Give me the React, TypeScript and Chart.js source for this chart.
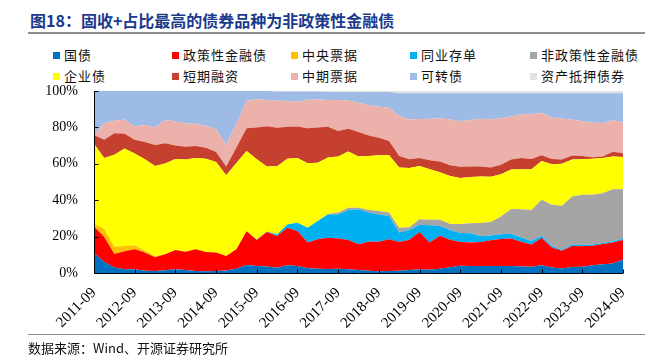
import React, { useEffect, useRef } from 'react';
import { Chart, registerables } from 'chart.js';

Chart.register(...registerables);

const quarters: string[] = [
  '2011-09', '2011-12',
  '2012-03', '2012-06', '2012-09', '2012-12',
  '2013-03', '2013-06', '2013-09', '2013-12',
  '2014-03', '2014-06', '2014-09', '2014-12',
  '2015-03', '2015-06', '2015-09', '2015-12',
  '2016-03', '2016-06', '2016-09', '2016-12',
  '2017-03', '2017-06', '2017-09', '2017-12',
  '2018-03', '2018-06', '2018-09', '2018-12',
  '2019-03', '2019-06', '2019-09', '2019-12',
  '2020-03', '2020-06', '2020-09', '2020-12',
  '2021-03', '2021-06', '2021-09', '2021-12',
  '2022-03', '2022-06', '2022-09', '2022-12',
  '2023-03', '2023-06', '2023-09', '2023-12',
  '2024-03', '2024-06', '2024-09',
];

const tickLabels: string[] = [
  '2011-09', '2012-09', '2013-09', '2014-09', '2015-09', '2016-09', '2017-09',
  '2018-09', '2019-09', '2020-09', '2021-09', '2022-09', '2023-09', '2024-09',
];

const yTicks: number[] = [0, 20, 40, 60, 80, 100];

const guozhai: number[] = [11, 6, 3, 2, 2, 1.2, 1.1, 1.5, 2, 1.6, 1.1, 1, 1.1, 1.4, 2.3, 4.4, 3.8, 3.6, 2.9, 4.3, 3.9, 2.6, 2.4, 2.2, 2.3, 2, 1.6, 1.2, 1, 1.1, 1.2, 1.6, 2, 1.8, 2.4, 3.2, 4, 3.8, 3.8, 3.8, 3.8, 3.8, 3.6, 3.5, 4.2, 3, 2.5, 3.3, 3.5, 4.2, 4.8, 5.2, 7.3];
const zhengcexing: number[] = [14.5, 13.8, 7.4, 10, 11, 10, 7.5, 8.8, 10.6, 10.1, 11.9, 10.5, 10.1, 7.9, 10.7, 18.5, 14.3, 18.9, 17.4, 20.6, 19.2, 14.1, 16.1, 17.2, 16.6, 16.1, 14.2, 16, 16.2, 17.4, 15.8, 16.7, 20.5, 15, 18.1, 15.1, 13, 13, 13.3, 14.2, 14.9, 15.2, 13.6, 12.1, 15, 11, 9.7, 11.5, 11.2, 10.8, 11.2, 11.5, 10.8];
const zhongyangpiaoju: number[] = [1.5, 4.5, 4, 2.9, 2.2, 1, 0.6, 0.2, 0, 0, 0, 0, 0, 0, 0, 0, 0, 0, 0, 0, 0, 0, 0, 0, 0, 0, 0, 0, 0, 0, 0, 0, 0, 0, 0, 0, 0, 0, 0, 0, 0, 0, 0, 0, 0, 0, 0, 0, 0, 0, 0, 0, 0];
const tongyecundan: number[] = [0, 0, 0, 0, 0, 0, 0, 0, 0, 0, 0, 0, 0, 0, 0, 0, 0.3, 0.3, 0.9, 1.8, 4.5, 8.2, 10.1, 12.8, 13.3, 16.5, 19.2, 16, 15, 12.8, 5.2, 5.3, 4, 9.5, 5.3, 5.3, 5, 5, 3.1, 2.6, 2.6, 2.6, 2.3, 2, 1.2, 0.8, 0.6, 0.8, 0.7, 0.7, 0.5, 0.7, 0.7];
const feizhengce: number[] = [0, 0, 0, 0, 0, 0, 0, 0, 0, 0, 0, 0, 0, 0, 0, 0, 0, 0, 0, 0, 0, 0, 0, 0.2, 1, 1.2, 0.8, 1.4, 1.9, 1.9, 2.6, 1.6, 3, 3, 3.4, 3.3, 4.9, 5.5, 7.3, 7.4, 9.7, 13.5, 15.5, 17, 19.9, 22.7, 24.2, 26.5, 27.6, 27.3, 27.3, 28.6, 27.3];
const qiyezhai: number[] = [44, 38.9, 50.6, 53.5, 50.4, 50.3, 49.6, 49.6, 50, 50.6, 50.2, 51.3, 49.8, 44.4, 47.5, 44.1, 44.1, 35.7, 37.4, 36.1, 35.6, 35.4, 32, 31.1, 30.8, 30.9, 28.2, 29.7, 30.6, 31.6, 33.1, 32.5, 29.3, 27.7, 26.1, 26.4, 25.3, 25.5, 25.5, 24.9, 23.3, 21.7, 22, 22.4, 21.3, 22.3, 23, 20.2, 19.5, 19.8, 19.4, 18, 17.7];
const duanqirongzi: number[] = [4.8, 10, 11.8, 8.1, 7.6, 9.5, 11.5, 11.2, 7.4, 7.1, 6.6, 6, 5.5, 4.8, 8.5, 12.5, 17.5, 22.1, 21.2, 17.5, 17.3, 19.2, 19.4, 16.9, 14, 12.6, 13.5, 11.2, 9.6, 7.7, 6.4, 4.8, 4.4, 5, 5.9, 5.9, 6.2, 5.7, 5.5, 5.1, 5.2, 5.5, 6.2, 5.6, 3.1, 2.8, 2.3, 2.2, 1.8, 0.8, 0.8, 2.6, 2];
const zhongqipiaoju: number[] = [0.2, 9.2, 6.8, 7.9, 7.3, 9.3, 9.6, 12.7, 13.2, 12.8, 12.2, 12, 12.5, 11.8, 13, 15.1, 15.4, 14.4, 14.9, 14.2, 13.6, 15.7, 15.3, 14.6, 17, 15.5, 16, 16.8, 17, 18.3, 22, 21.9, 21.4, 22.8, 23.8, 25.1, 25, 25.5, 26.3, 26.5, 25.5, 23.7, 24, 24.6, 23.4, 22.9, 22.5, 19.9, 19.1, 19, 18.4, 17.3, 17];
const kezhuanzhai: number[] = [24, 17.6, 16.4, 15.6, 19.5, 18.7, 20.1, 16, 16.8, 17.8, 18, 19.2, 21, 29.7, 18, 5.4, 4.6, 5, 5, 5.2, 5.6, 4.5, 4.4, 4.4, 4.4, 4.6, 5.9, 7.1, 8.1, 8.6, 12.5, 14.4, 14.2, 14, 13.8, 14.5, 15.4, 14.8, 14, 14.3, 13.8, 12.8, 11.6, 11.6, 10.7, 13.3, 14, 14.4, 15.4, 16.2, 16.4, 14.9, 16];
const zichandiya: number[] = [0, 0, 0, 0, 0, 0, 0, 0, 0, 0, 0, 0, 0, 0, 0, 0, 0, 0, 0.3, 0.3, 0.3, 0.3, 0.3, 0.6, 0.6, 0.6, 0.6, 0.6, 0.6, 0.6, 1.2, 1.2, 1.2, 1.2, 1.2, 1.2, 1.2, 1.2, 1.2, 1.2, 1.2, 1.2, 1.2, 1.2, 1.2, 1.2, 1.2, 1.2, 1.2, 1.2, 1.2, 1.2, 1.2];

const seriesNames: string[] = ['国债', '政策性金融债', '中央票据', '同业存单', '非政策性金融债', '企业债', '短期融资', '中期票据', '可转债', '资产抵押债券'];
const seriesData: number[][] = [guozhai, zhengcexing, zhongyangpiaoju, tongyecundan, feizhengce, qiyezhai, duanqirongzi, zhongqipiaoju, kezhuanzhai, zichandiya];
const seriesColors: string[] = ['#0070C0', '#FF0000', '#FFC000', '#00B0F0', '#A5A5A5', '#FFFF00', '#C5402F', '#EBB1AA', '#9DBBE4', '#E2E2E2'];

// legend grid order (row-major, 5 columns)
const legendCols: number[] = [53, 172, 291, 410, 530];
const legendRows: number[] = [55, 76];

const axisPlugin = {
  id: 'axisPlugin',
  afterDatasetsDraw(chart: any) {
    const { ctx, chartArea, scales } = chart;
    const xs = scales.x;
    const ys = scales.y;
    ctx.save();
    ctx.strokeStyle = '#000';
    ctx.lineWidth = 1;
    ctx.beginPath();
    const b = Math.round(chartArea.bottom) + 0.5;
    const l = Math.round(chartArea.left) + 0.5;
    ctx.moveTo(l, Math.round(chartArea.top));
    ctx.lineTo(l, b);
    ctx.lineTo(Math.round(chartArea.right), b);
    xs.ticks.forEach((t: any, i: number) => {
      if (!t.label) return;
      const px = Math.round(xs.getPixelForTick(i)) + 0.5;
      ctx.moveTo(px, b);
      ctx.lineTo(px, b - 4);
    });
    ys.ticks.forEach((_t: any, i: number) => {
      const py = Math.round(ys.getPixelForTick(i)) + 0.5;
      ctx.moveTo(l, py);
      ctx.lineTo(l + 4, py);
    });
    ctx.stroke();
    ctx.restore();
  },
};

export default function App() {
  const canvasRef = useRef<HTMLCanvasElement | null>(null);

  useEffect(() => {
    const canvas = canvasRef.current;
    if (!canvas) return;
    const chart = new Chart(canvas, {
      type: 'line',
      data: {
        labels: quarters,
        datasets: seriesNames.map((name, i) => ({
          label: name,
          data: seriesData[i],
          backgroundColor: seriesColors[i],
          borderColor: seriesColors[i],
          borderWidth: 0,
          pointRadius: 0,
          tension: 0,
          fill: i === 0 ? 'origin' : '-1',
        })),
      },
      options: {
        responsive: false,
        animation: false,
        devicePixelRatio: 1,
        layout: { padding: { top: 91, right: 29, left: 0, bottom: 0 } },
        plugins: {
          legend: { display: false },
          tooltip: { enabled: false },
          title: { display: false },
        },
        scales: {
          x: {
            type: 'category',
            offset: false,
            grid: { display: false },
            border: { display: false },
            ticks: {
              autoSkip: false,
              minRotation: 45,
              maxRotation: 45,
              color: '#000',
              padding: 3,
              font: { family: 'Liberation Serif', size: 15 },
              callback: (_v: any, idx: number) => (tickLabels.includes(quarters[idx]) ? quarters[idx] : ''),
            },
            afterFit: (scale: any) => {
              scale.height = 85;
            },
          },
          y: {
            stacked: true,
            min: 0,
            max: 100,
            grid: { display: false },
            border: { display: false },
            afterBuildTicks: (scale: any) => {
              scale.ticks = yTicks.map((v) => ({ value: v }));
            },
            ticks: {
              color: '#000',
              padding: 8,
              font: { family: 'Liberation Serif', size: 14 },
              callback: (v: any) => v + '%',
            },
            afterFit: (scale: any) => {
              scale.width = 94;
            },
          },
        },
      },
      plugins: [axisPlugin],
    });
    return () => chart.destroy();
  }, []);

  return (
    <div style={{ position: 'absolute', left: 0, top: 0, width: 652, height: 358, background: '#fff', overflow: 'hidden' }}>
      <div
        style={{
          position: 'absolute', left: 30, top: 9, fontFamily: '"Noto Sans CJK SC", sans-serif', fontWeight: 700,
          fontSize: 16, color: '#1B3A8C', whiteSpace: 'nowrap', lineHeight: '22px',
        }}
      >
        图18：固收+占比最高的债券品种为非政策性金融债
      </div>
      <div style={{ position: 'absolute', left: 28, top: 32, width: 617, height: 2, background: '#8C8C8C' }} />
      {seriesNames.map((name, i) => {
        const x = legendCols[i % 5];
        const y = legendRows[Math.floor(i / 5)];
        return (
          <div key={name}>
            <div style={{ position: 'absolute', left: x, top: y - 3, width: 7, height: 7, background: seriesColors[i] }} />
            <div
              style={{
                position: 'absolute', left: x + 11, top: y - 9, lineHeight: '18px', fontSize: 13, letterSpacing: 1,
                fontFamily: '"Noto Sans CJK SC", sans-serif', color: '#111', whiteSpace: 'nowrap',
              }}
            >
              {name}
            </div>
          </div>
        );
      })}
      <canvas ref={canvasRef} width={652} height={358} style={{ position: 'absolute', left: 0, top: 0 }} />
      <div style={{ position: 'absolute', left: 28, top: 334, width: 617, height: 1, background: '#8C8C8C' }} />
      <div
        style={{
          position: 'absolute', left: 28, top: 339, fontSize: 13, lineHeight: '18px', color: '#111',
          fontFamily: '"Noto Sans CJK SC", sans-serif', whiteSpace: 'nowrap',
        }}
      >
        数据来源：Wind、开源证券研究所
      </div>
    </div>
  );
}
